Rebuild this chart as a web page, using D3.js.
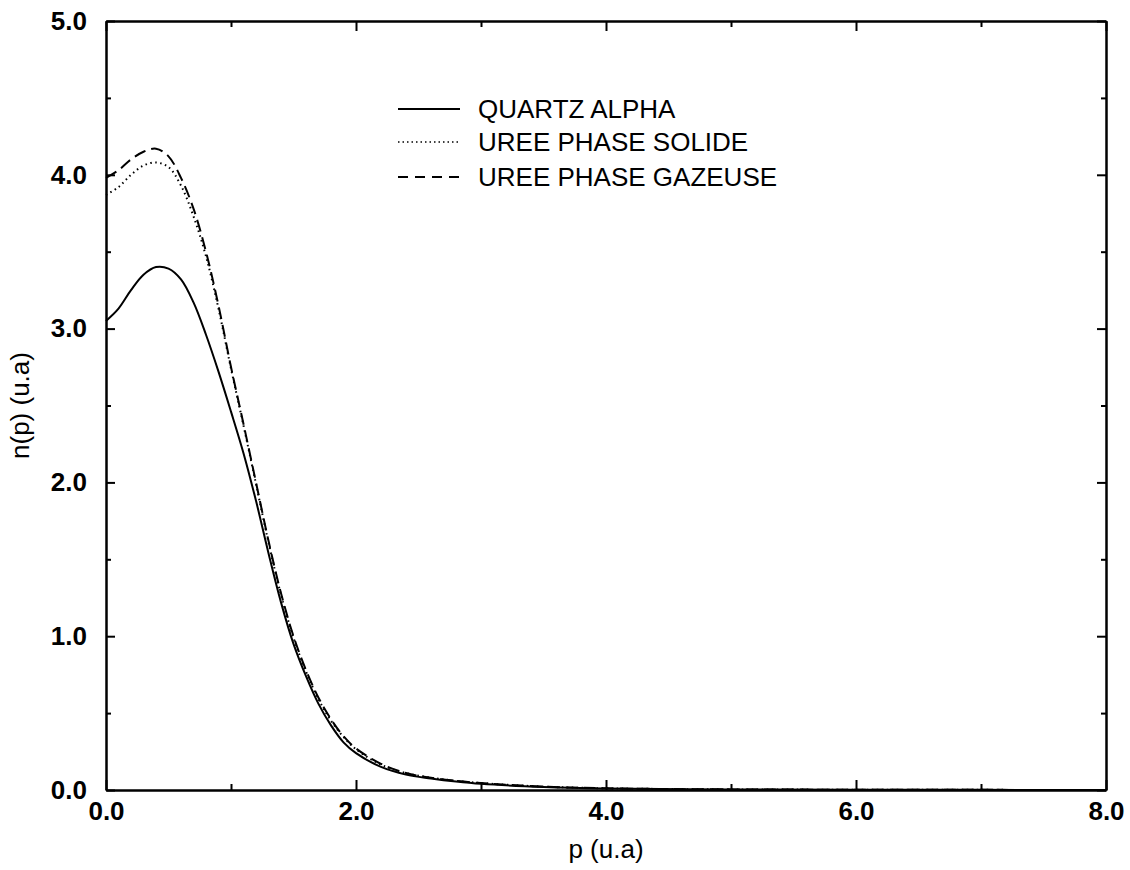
<!DOCTYPE html>
<html lang="en">
<head>
    <meta charset="UTF-8">
    <title>n(p) - distribution des moments</title>
    <style>
        body { margin: 0; background: #fff; }
        svg { display: block; }
        .axis path, .axis line { stroke: #000; }
        .axis text { font-family: "Liberation Sans", Arial, sans-serif; font-weight: bold; font-size: 26px; fill: #000; }
        .title { font-family: "Liberation Sans", Arial, sans-serif; font-size: 26px; fill: #000; }
        .legend text { font-family: "Liberation Sans", Arial, sans-serif; font-size: 26px; fill: #000; }
    </style>
</head>
<body>
<div id="chart"></div>
<script src="https://d3js.org/d3.v7.min.js"></script>
<script>
    // values
    const p = [0, 0.1, 0.2, 0.3, 0.4, 0.5, 0.6, 0.7, 0.8, 0.9, 1.0, 1.1, 1.2, 1.3, 1.4, 1.5,
               1.6, 1.7, 1.8, 1.9, 2.0, 2.2, 2.4, 2.6, 2.8, 3.0, 3.5, 4.0, 5.0, 6.0, 7.0, 8.0];

    const quartzAlpha = [3.05, 3.13, 3.25, 3.35, 3.40, 3.39, 3.32, 3.17, 2.96, 2.72, 2.46, 2.19, 1.88, 1.54, 1.22, 0.95,
                         0.74, 0.56, 0.42, 0.31, 0.24, 0.15, 0.10, 0.075, 0.055, 0.04, 0.02, 0.01, 0.004, 0.002, 0.001, 0];

    const ureeSolide = [3.87, 3.92, 4.00, 4.06, 4.08, 4.05, 3.93, 3.73, 3.47, 3.13, 2.74, 2.37, 1.99, 1.61, 1.27, 0.99,
                        0.77, 0.59, 0.45, 0.345, 0.265, 0.165, 0.11, 0.08, 0.06, 0.045, 0.022, 0.011, 0.004, 0.002, 0.001, 0];

    const ureeGazeuse = [3.98, 4.03, 4.10, 4.15, 4.17, 4.12, 3.98, 3.78, 3.50, 3.15, 2.75, 2.38, 2.00, 1.62, 1.28, 1.00,
                         0.78, 0.60, 0.46, 0.35, 0.27, 0.17, 0.11, 0.08, 0.06, 0.045, 0.022, 0.011, 0.004, 0.002, 0.001, 0];

    const seriesNames = ["QUARTZ ALPHA", "UREE PHASE SOLIDE", "UREE PHASE GAZEUSE"];
    const xMajor = [0, 2, 4, 6, 8];
    const xMinor = [1, 3, 5, 7];
    const yMajor = [0, 1, 2, 3, 4, 5];
    const yMinor = [0.5, 1.5, 2.5, 3.5, 4.5];

    const width = 1130, height = 870;
    const m = { left: 106, right: 1106, top: 21, bottom: 790 };

    const svg = d3.select("#chart").append("svg")
        .attr("width", width)
        .attr("height", height);

    const x = d3.scaleLinear().domain([0, 8]).range([m.left, m.right]);
    const y = d3.scaleLinear().domain([0, 5]).range([m.bottom, m.top]);
    const fmt = d3.format(".1f");

    // axes: labelled major ticks, short minor ticks, all pointing inward
    svg.append("g").attr("class", "axis")
        .attr("transform", `translate(0,${m.bottom})`)
        .call(d3.axisBottom(x).tickValues(xMajor).tickFormat(fmt).tickSizeInner(-10).tickSizeOuter(0).tickPadding(12));
    svg.append("g").attr("class", "axis")
        .attr("transform", `translate(0,${m.bottom})`)
        .call(d3.axisBottom(x).tickValues(xMinor).tickFormat("").tickSizeInner(-6).tickSizeOuter(0));
    svg.append("g").attr("class", "axis")
        .attr("transform", `translate(0,${m.top})`)
        .call(d3.axisTop(x).tickValues(xMajor).tickFormat("").tickSizeInner(-10).tickSizeOuter(0));
    svg.append("g").attr("class", "axis")
        .attr("transform", `translate(0,${m.top})`)
        .call(d3.axisTop(x).tickValues(xMinor).tickFormat("").tickSizeInner(-6).tickSizeOuter(0));

    svg.append("g").attr("class", "axis")
        .attr("transform", `translate(${m.left},0)`)
        .call(d3.axisLeft(y).tickValues(yMajor).tickFormat(fmt).tickSizeInner(-9).tickSizeOuter(0).tickPadding(19));
    svg.append("g").attr("class", "axis")
        .attr("transform", `translate(${m.left},0)`)
        .call(d3.axisLeft(y).tickValues(yMinor).tickFormat("").tickSizeInner(-5).tickSizeOuter(0));
    svg.append("g").attr("class", "axis")
        .attr("transform", `translate(${m.right},0)`)
        .call(d3.axisRight(y).tickValues(yMajor).tickFormat("").tickSizeInner(-9).tickSizeOuter(0));
    svg.append("g").attr("class", "axis")
        .attr("transform", `translate(${m.right},0)`)
        .call(d3.axisRight(y).tickValues(yMinor).tickFormat("").tickSizeInner(-5).tickSizeOuter(0));

    svg.selectAll(".axis path, .axis line").attr("stroke-width", 2);

    // curves
    const styles = [
        { data: quartzAlpha, dash: null, w: 2 },
        { data: ureeSolide, dash: "1.5,3.5", w: 2 },
        { data: ureeGazeuse, dash: "12,6", w: 2 }
    ];

    const line = d3.line()
        .x((d, i) => x(p[i]))
        .y(d => y(d))
        .curve(d3.curveCatmullRom.alpha(0.5));

    styles.forEach(s => {
        svg.append("path")
            .datum(s.data)
            .attr("fill", "none")
            .attr("stroke", "#000")
            .attr("stroke-width", s.w)
            .attr("stroke-dasharray", s.dash)
            .attr("d", line);
    });

    // legend
    const legend = svg.append("g").attr("class", "legend");
    const legendY = [109, 142, 177];
    seriesNames.forEach((name, i) => {
        legend.append("line")
            .attr("x1", 398).attr("x2", 460)
            .attr("y1", legendY[i]).attr("y2", legendY[i])
            .attr("stroke", "#000")
            .attr("stroke-width", i === 1 ? 1.5 : 2)
            .attr("stroke-dasharray", i === 0 ? null : (i === 1 ? "1.5,3" : "10,7"));
        legend.append("text")
            .attr("x", 478)
            .attr("y", legendY[i] + 9)
            .text(name);
    });

    // axis titles
    svg.append("text").attr("class", "title")
        .attr("x", (m.left + m.right) / 2)
        .attr("y", 858)
        .attr("text-anchor", "middle")
        .text("p (u.a)");

    svg.append("text").attr("class", "title")
        .attr("transform", `translate(29,${(m.top + m.bottom) / 2}) rotate(-90)`)
        .attr("text-anchor", "middle")
        .text("n(p) (u.a)");
</script>
</body>
</html>
